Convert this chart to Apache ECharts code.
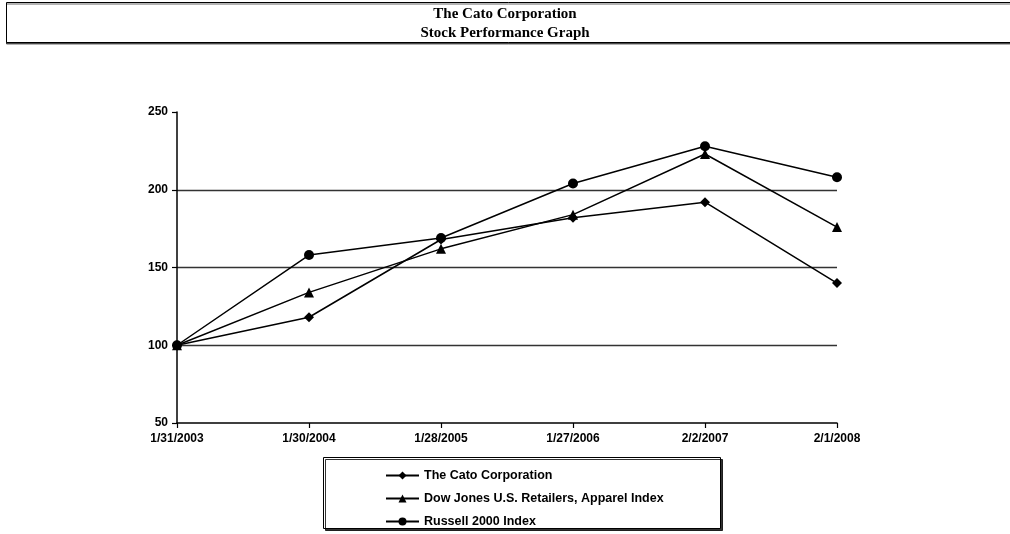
<!DOCTYPE html>
<html>
<head>
<meta charset="utf-8">
<script src="https://cdn.jsdelivr.net/npm/echarts@6/dist/echarts.min.js"></script>
<style>html,body{margin:0;padding:0;background:#fff;}#c{width:1010px;height:534px;}</style>
</head>
<body>
<div id="c"></div>
<script>
const categories = ['1/31/2003','1/30/2004','1/28/2005','1/27/2006','2/2/2007','2/1/2008'];
const cato = [100, 118, 168, 182, 192, 140];
const dowJones = [100, 134, 162, 184, 223, 176];
const russell = [100, 158, 169, 204, 228, 208];
const seriesNames = ['The Cato Corporation','Dow Jones U.S. Retailers, Apparel Index','Russell 2000 Index'];
const yTicks = {min: 50, max: 250, interval: 50};

const chart = echarts.init(document.getElementById('c'), null, {renderer: 'canvas'});
const lab = {fontFamily: 'Liberation Sans, Arial, sans-serif', fontWeight: 'bold', fontSize: 12, color: '#000'};
function mk(name, data, symbol, size) {
  return {
    name: name, type: 'line', data: data, symbol: symbol, symbolSize: size,
    lineStyle: {color: '#000', width: 1.5}, itemStyle: {color: '#000'},
    emphasis: {disabled: true}, animation: false, z: 5
  };
}
chart.setOption({
  animation: false,
  title: {
    text: 'The Cato Corporation\nStock Performance Graph',
    left: 'center', top: 5, padding: 0,
    textStyle: {fontFamily: 'Liberation Serif, Times New Roman, serif', fontWeight: 'bold', fontSize: 15, lineHeight: 19, color: '#000'}
  },
  graphic: [
    {type: 'rect', shape: {x: 6.5, y: 2.5, width: 1010, height: 40}, style: {fill: '#fff', stroke: '#000', lineWidth: 1, shadowColor: 'rgba(0,0,0,0.6)', shadowOffsetX: 0, shadowOffsetY: 1.5}, z: -10},
    {type: 'rect', shape: {x: 323.5, y: 457.5, width: 397, height: 71}, style: {fill: '#fff', stroke: '#000', lineWidth: 1, shadowColor: 'rgba(0,0,0,0.8)', shadowOffsetX: 2, shadowOffsetY: 2}, z: -10}
  ],
  legend: {
    orient: 'vertical', left: 385, top: 469, height: 80, padding: 0,
    itemWidth: 33, itemHeight: 10, itemGap: 10,
    textStyle: Object.assign({}, lab, {fontSize: 12.5}),
    data: seriesNames
  },
  grid: {left: 177, right: 173, top: 112, bottom: 111, containLabel: false},
  xAxis: {
    type: 'category', boundaryGap: false, data: categories,
    axisLine: {lineStyle: {color: '#000', width: 1.5}},
    axisTick: {show: true, alignWithLabel: true, length: 5, lineStyle: {color: '#000', width: 1.2}},
    axisLabel: Object.assign({margin: 10}, lab),
    splitLine: {show: false}
  },
  yAxis: {
    type: 'value', min: yTicks.min, max: yTicks.max, interval: yTicks.interval,
    axisLine: {show: true, lineStyle: {color: '#000', width: 1.5}},
    axisTick: {show: true, length: 5, lineStyle: {color: '#000', width: 1.2}},
    axisLabel: Object.assign({margin: 9}, lab),
    splitLine: {show: true, lineStyle: {color: ['transparent', '#333', '#333', '#333', 'transparent'], width: 1.3}}
  },
  series: [
    mk(seriesNames[0], cato, 'diamond', 10),
    mk(seriesNames[1], dowJones, 'triangle', 10),
    mk(seriesNames[2], russell, 'circle', 10)
  ]
});
</script>
</body>
</html>
